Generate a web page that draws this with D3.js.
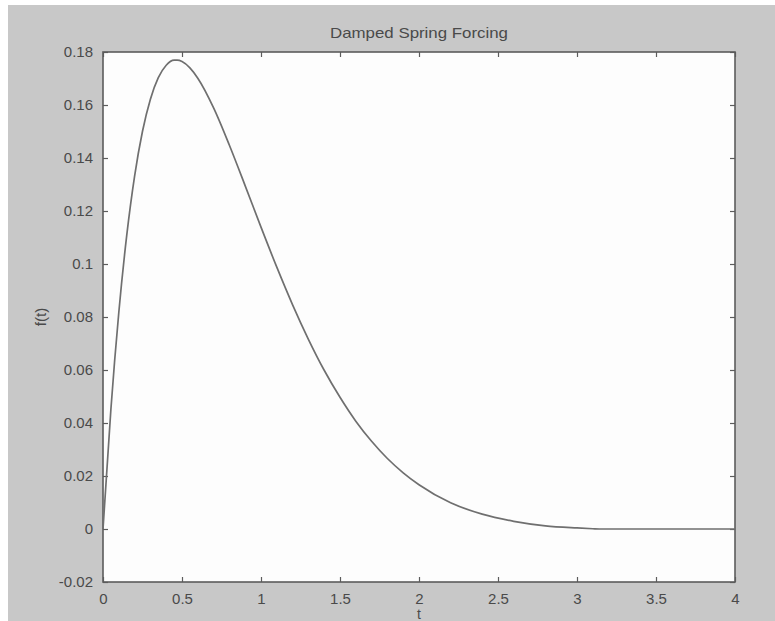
<!DOCTYPE html>
<html><head><meta charset="utf-8">
<script src="https://cdn.jsdelivr.net/npm/d3@7"></script>
<style>
html,body{margin:0;padding:0;background:#fff;}
svg{display:block;}
text{font-family:"Liberation Sans",Arial,sans-serif;fill:#4a4a4a;}
</style></head>
<body>
<svg id="chart" width="775" height="621"></svg>
<script>
// Data
const tValues = [0, 0.05, 0.1, 0.15, 0.2, 0.25, 0.3, 0.35, 0.4, 0.45, 0.47, 0.5, 0.55, 0.6, 0.7, 0.8, 0.9, 1.0,
  1.1, 1.2, 1.3, 1.4, 1.5, 1.6, 1.7, 1.8, 1.9, 2.0, 2.2, 2.4, 2.6, 2.8, 3.0, 3.1, 3.1416, 3.5, 4.0];
const fValues = [0, 0.0452, 0.0817, 0.1107, 0.1332, 0.1501, 0.1622, 0.1703, 0.1750, 0.1769, 0.1769, 0.1764, 0.1740, 0.1701,
  0.1589, 0.1448, 0.1295, 0.1139, 0.0988, 0.0846, 0.0716, 0.0599, 0.0497, 0.0407, 0.0331, 0.0266, 0.0212, 0.0167,
  0.0099, 0.0056, 0.0029, 0.0012, 0.0004, 0.0001, 0, 0, 0];
const xTicks = [0, 0.5, 1, 1.5, 2, 2.5, 3, 3.5, 4];
const xTickLabels = ["0", "0.5", "1", "1.5", "2", "2.5", "3", "3.5", "4"];
const yTicks = [-0.02, 0, 0.02, 0.04, 0.06, 0.08, 0.1, 0.12, 0.14, 0.16, 0.18];
const yTickLabels = ["-0.02", "0", "0.02", "0.04", "0.06", "0.08", "0.1", "0.12", "0.14", "0.16", "0.18"];
const titleText = "Damped Spring Forcing";
const xLabelText = "t";
const yLabelText = "f(t)";

const svg = d3.select("#chart");
const L = 103, R = 735, T = 52, B = 582;
const x = d3.scaleLinear().domain([0, 4]).range([L, R]);
const y = d3.scaleLinear().domain([-0.02, 0.18]).range([B, T]);

// figure background
svg.append("rect").attr("x", 8).attr("y", 5).attr("width", 767).attr("height", 616).attr("fill", "#c8c8c8");
// axes area
svg.append("rect").attr("x", L).attr("y", T).attr("width", R - L).attr("height", B - T).attr("fill", "#fdfdfd");

const axisColor = "#5c5c5c";
const tickLen = 5;
function styleAxis(g) {
  g.select(".domain").remove();
  g.selectAll(".tick line").attr("stroke", axisColor).attr("stroke-width", 1.2);
}
// bottom
svg.append("g").attr("transform", `translate(0,${B})`)
  .call(d3.axisBottom(x).tickValues(xTicks).tickSizeInner(-tickLen).tickSizeOuter(0)
    .tickFormat((d, i) => xTickLabels[i]).tickPadding(11))
  .call(styleAxis)
  .call(g => g.selectAll("text").attr("font-size", 15).attr("fill", "#4a4a4a"));
// top
svg.append("g").attr("transform", `translate(0,${T})`)
  .call(d3.axisTop(x).tickValues(xTicks).tickSizeInner(-tickLen).tickSizeOuter(0).tickFormat(""))
  .call(styleAxis);
// left
svg.append("g").attr("transform", `translate(${L},0)`)
  .call(d3.axisLeft(y).tickValues(yTicks).tickSizeInner(-tickLen).tickSizeOuter(0)
    .tickFormat((d, i) => yTickLabels[i]).tickPadding(10))
  .call(styleAxis)
  .call(g => g.selectAll("text").attr("font-size", 15).attr("fill", "#4a4a4a"));
// right
svg.append("g").attr("transform", `translate(${R},0)`)
  .call(d3.axisRight(y).tickValues(yTicks).tickSizeInner(-tickLen).tickSizeOuter(0).tickFormat(""))
  .call(styleAxis);

// box
svg.append("rect").attr("x", L).attr("y", T).attr("width", R - L).attr("height", B - T)
  .attr("fill", "none").attr("stroke", axisColor).attr("stroke-width", 1.6);

// curve
const data = tValues.map((t, i) => ({ t, f: fValues[i] }));
svg.append("path").datum(data)
  .attr("fill", "none").attr("stroke", "#6f6f6f").attr("stroke-width", 1.7)
  .attr("d", d3.line().x(d => x(d.t)).y(d => y(d.f)).curve(d3.curveMonotoneX));

// title and labels
svg.append("text").attr("x", (L + R) / 2).attr("y", 38).attr("text-anchor", "middle")
  .attr("font-size", 15).attr("textLength", 178).attr("lengthAdjust", "spacingAndGlyphs").text(titleText);
svg.append("text").attr("x", (L + R) / 2).attr("y", 619).attr("text-anchor", "middle")
  .attr("font-size", 14).text(xLabelText);
svg.append("text").attr("transform", `translate(46,${(T + B) / 2}) rotate(-90)`).attr("text-anchor", "middle")
  .attr("font-size", 15).text(yLabelText);
</script>
</body></html>
